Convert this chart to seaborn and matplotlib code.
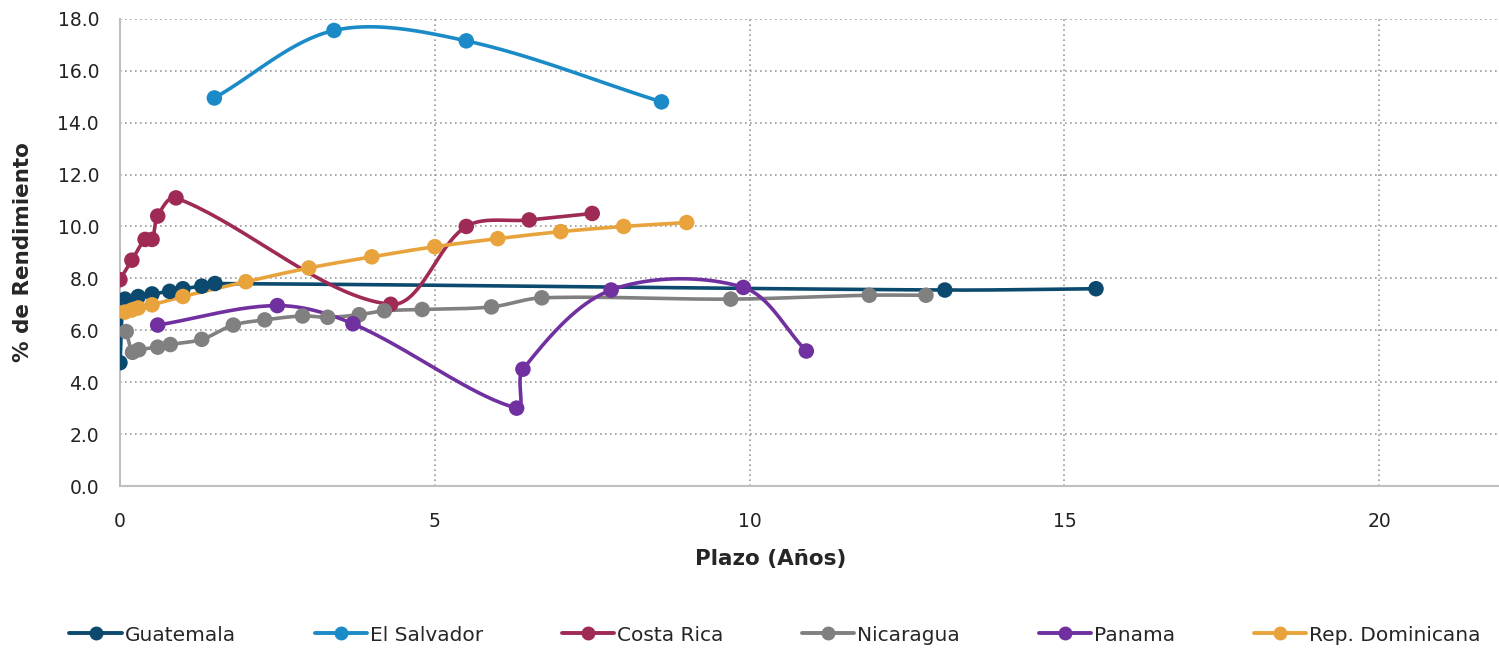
import numpy as np
import pandas as pd
import matplotlib.pyplot as plt
import seaborn as sns
from matplotlib.lines import Line2D

# values: plazo (years) and yield (%)
guatemala_x = [0.0, 0.08, 0.29, 0.51, 0.79, 1.0, 1.3, 1.51, 13.1, 15.5]
guatemala_y = [4.75, 7.2, 7.3, 7.4, 7.5, 7.6, 7.7, 7.8, 7.55, 7.6]

salvador_x = [1.5, 3.4, 5.5, 8.6]
salvador_y = [14.95, 17.55, 17.15, 14.8]

costa_x = [0.0, 0.19, 0.4, 0.51, 0.6, 0.89, 4.3, 5.5, 6.5, 7.5]
costa_y = [7.95, 8.7, 9.5, 9.5, 10.4, 11.1, 7.0, 10.0, 10.25, 10.5]

nicaragua_x = [0.1, 0.2, 0.3, 0.6, 0.8, 1.3, 1.8, 2.3, 2.9, 3.3, 3.8, 4.2,
               4.8, 5.9, 6.7, 9.7, 11.9, 12.8]
nicaragua_y = [5.95, 5.15, 5.25, 5.35, 5.45, 5.65, 6.2, 6.4, 6.55, 6.5, 6.6,
               6.75, 6.8, 6.9, 7.25, 7.2, 7.35, 7.35]

panama_x = [0.6, 2.5, 3.7, 6.3, 6.4, 7.8, 9.9, 10.9]
panama_y = [6.2, 6.95, 6.25, 3.0, 4.5, 7.55, 7.65, 5.2]

dominicana_x = [0.08, 0.19, 0.29, 0.51, 1.0, 2.0, 3.0, 4.0, 5.0, 6.0, 7.0,
                8.0, 9.0]
dominicana_y = [6.7, 6.78, 6.86, 6.98, 7.3, 7.87, 8.4, 8.83, 9.22, 9.53,
                9.8, 10.0, 10.15]

countries = ['Guatemala', 'El Salvador', 'Costa Rica', 'Nicaragua', 'Panama',
             'Rep. Dominicana']
colors = ['#0b4a6e', '#1b8bc8', '#9e2a55', '#808080', '#7030a0', '#e8a33d']


def smooth(x, y, n=40):
    '''
    Bezier smoothing like the smoothed lines of a spreadsheet chart,
    tangents scaled by the length of the neighbouring segments
    (measured on screen, so x and y are scaled to pixels first)
    '''
    sx, sy = 63.0, 25.94
    pts = np.column_stack([np.array(x) * sx, np.array(y) * sy])
    p = np.vstack([pts[0], pts, pts[-1]])
    t = np.linspace(0, 1, n)[:, None]
    segs = []
    for i in range(1, len(p) - 2):
        p0, p1, p2, p3 = p[i - 1], p[i], p[i + 1], p[i + 2]
        d0 = np.linalg.norm(p1 - p0)
        d1 = np.linalg.norm(p2 - p1)
        d2 = np.linalg.norm(p3 - p2)
        c1 = p1 + (p2 - p0) * d1 / (d0 + d1) / 3 if d0 + d1 > 0 else p1
        c2 = p2 - (p3 - p1) * d1 / (d1 + d2) / 3 if d1 + d2 > 0 else p2
        segs.append((1 - t) ** 3 * p1 + 3 * (1 - t) ** 2 * t * c1
                    + 3 * (1 - t) * t ** 2 * c2 + t ** 3 * p2)
    out = np.vstack(segs)
    return out[:, 0] / sx, out[:, 1] / sy


def main():
    sns.set_style('white')
    plt.rcParams['font.family'] = ['DejaVu Sans']

    series = [(guatemala_x, guatemala_y), (salvador_x, salvador_y),
              (costa_x, costa_y), (nicaragua_x, nicaragua_y),
              (panama_x, panama_y), (dominicana_x, dominicana_y)]

    fig = plt.figure(figsize=(14.99, 6.48), dpi=100)
    ax = fig.add_axes([0.080, 0.25, 0.92, 0.721])

    for name, color, (xs, ys) in zip(countries, colors, series):
        cx, cy = smooth(xs, ys)
        line = pd.DataFrame({'x': cx, 'y': cy})
        sns.lineplot(data=line, x='x', y='y', sort=False, estimator=None,
                     color=color, linewidth=2.6, ax=ax, zorder=3)
        pts = pd.DataFrame({'x': xs, 'y': ys})
        sns.scatterplot(data=pts, x='x', y='y', color=color, s=125,
                        edgecolor='none', ax=ax, zorder=4)

    ax.set_xlim(0, 21.9)
    ax.set_ylim(0, 18)
    ax.set_xticks([0, 5, 10, 15, 20])
    ax.set_yticks(np.arange(0, 19, 2))
    ax.set_yticklabels([f'{v:.1f}' for v in np.arange(0, 19, 2)])
    ax.tick_params(labelsize=13.5, colors='#222222', length=0)
    ax.tick_params(axis='x', pad=19)
    ax.tick_params(axis='y', pad=15)

    ax.grid(True, axis='y', color='#999999', linestyle=(0, (1, 2)),
            linewidth=1.2)
    for v in [5, 10, 15, 20]:
        ax.axvline(v, color='#999999', linestyle=(0, (1, 2)), linewidth=1.2,
                   zorder=1)
    for side in ['top', 'right']:
        ax.spines[side].set_visible(False)
    for side in ['left', 'bottom']:
        ax.spines[side].set_color('#bfbfbf')
        ax.spines[side].set_linewidth(1.5)

    ax.set_xlabel('Plazo (Años)', fontsize=15.5, fontweight='bold')
    ax.xaxis.set_label_coords(0.472, -0.135)
    ax.set_ylabel('% de Rendimiento', fontsize=15.5, fontweight='bold')
    ax.yaxis.set_label_coords(-0.063, 0.5)

    handles = [Line2D([0], [0], color=c, linewidth=2.8, marker='o',
                      markersize=9) for c in colors]
    fig.legend(handles, countries, loc='center', ncol=6,
               bbox_to_anchor=(0.517, 0.02), frameon=False, fontsize=14.5,
               handlelength=2.6, handletextpad=0.15, columnspacing=3.9)

    fig.savefig('out.png', dpi=100)


if __name__ == '__main__':
    main()
